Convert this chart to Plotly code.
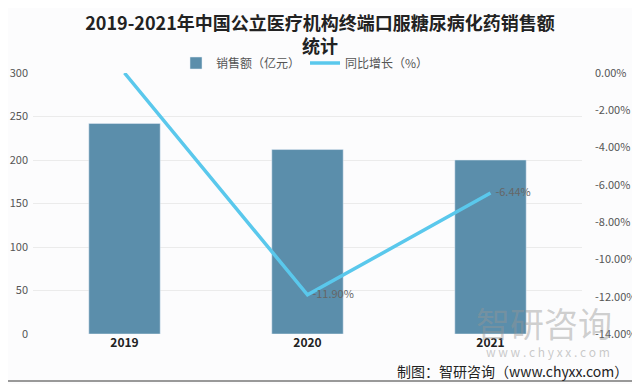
import plotly.graph_objects as go

years = ["2019", "2020", "2021"]
sales = [242, 212, 200]
growth = [0.0, -11.90, -6.44]
growth_labels = ["", "  -11.90%", "  -6.44%"]

# page body has an 8px margin; design in screen pixels and convert
OFF = 8
W, H = 640, 384
PL, PR, PT, PB = 33, 582, 73, 334          # plot area in screen px
ML, MT = PL - OFF, PT - OFF
MR, MB = W - (PR - OFF), H - (PB - OFF)
PW = PR - PL
PH = PB - PT

def px(x):
    return (x - PL) / PW

def py(y):
    return (PB - y) / PH

font_cn = "Noto Sans CJK SC"

fig = go.Figure()
fig.add_trace(go.Bar(
    x=years, y=sales, name="销售额（亿元）",
    marker=dict(color="#5b8eab"), width=0.39, yaxis="y",
))
fig.add_trace(go.Scatter(
    x=years, y=growth, name="同比增长（%）", mode="lines+text",
    line=dict(color="#5ac8ec", width=3.5),
    text=growth_labels, textposition="middle right",
    textfont=dict(size=11, color="#666666", family=font_cn),
    yaxis="y2", cliponaxis=False,
))

fig.update_layout(
    width=W, height=H,
    margin=dict(l=ML, r=MR, t=MT, b=MB, autoexpand=False),
    paper_bgcolor="#fcfcfd", plot_bgcolor="#fcfcfd",
    font=dict(family=font_cn, size=11, color="#555555"),
    title=dict(
        text="2019-2021年中国公立医疗机构终端口服糖尿病化药销售额<br>统计",
        x=(320 - OFF) / W, xanchor="center", y=1 - (30 - OFF) / H, yanchor="middle",
        font=dict(size=18, color="#222222", family=font_cn, weight="bold"),
    ),
    showlegend=True,
    legend=dict(
        orientation="h", x=px(305), xanchor="center", y=py(63), yanchor="middle",
        font=dict(size=12, color="#555555", family=font_cn),
        bgcolor="rgba(0,0,0,0)", itemwidth=30,
    ),
    xaxis=dict(
        showgrid=False, zeroline=False, showline=False,
        tickfont=dict(size=12, color="#222222", family=font_cn, weight="bold"),
        ticks="",
    ),
    yaxis=dict(
        range=[0, 300], dtick=50, showgrid=True, gridcolor="#ebebeb",
        zeroline=False, showline=False, ticklabelstandoff=4,
        tickfont=dict(size=11, color="#555555"), ticks="",
    ),
    yaxis2=dict(
        range=[-14, 0], dtick=2, overlaying="y", side="right",
        showgrid=False, zeroline=False, showline=False, ticklabelstandoff=12,
        tickvals=[0, -2, -4, -6, -8, -10, -12, -14],
        ticktext=["0.00%", "-2.00%", "-4.00%", "-6.00%", "-8.00%", "-10.00%", "-12.00%", "-14.00%"],
        tickfont=dict(size=11, color="#555555"), ticks="",
    ),
    bargap=0.6,
)

# watermark
fig.add_annotation(
    xref="paper", yref="paper", x=px(614), y=py(322), xanchor="right", yanchor="middle",
    text="智研咨询", showarrow=False,
    font=dict(size=34, color="rgba(150,150,150,0.45)", family=font_cn),
)
fig.add_annotation(
    xref="paper", yref="paper", x=px(612), y=py(351), xanchor="right", yanchor="middle",
    text="w w w . c h y x x . c o m", showarrow=False,
    font=dict(size=12, color="rgba(150,150,150,0.5)", family=font_cn),
)
fig.add_annotation(
    xref="paper", yref="paper", x=px(630), y=py(371), xanchor="right", yanchor="middle",
    text="制图：智研咨询（www.chyxx.com）", showarrow=False,
    font=dict(size=14, color="#222222", family=font_cn),
)

# frame lines at right and bottom edges
fig.add_shape(type="line", xref="paper", yref="paper", x0=px(637), x1=px(637), y0=py(0), y1=py(381),
              line=dict(color="#999999", width=2))
fig.add_shape(type="line", xref="paper", yref="paper", x0=px(0), x1=px(637), y0=py(381), y1=py(381),
              line=dict(color="#999999", width=2))

fig.write_html("out.html")
